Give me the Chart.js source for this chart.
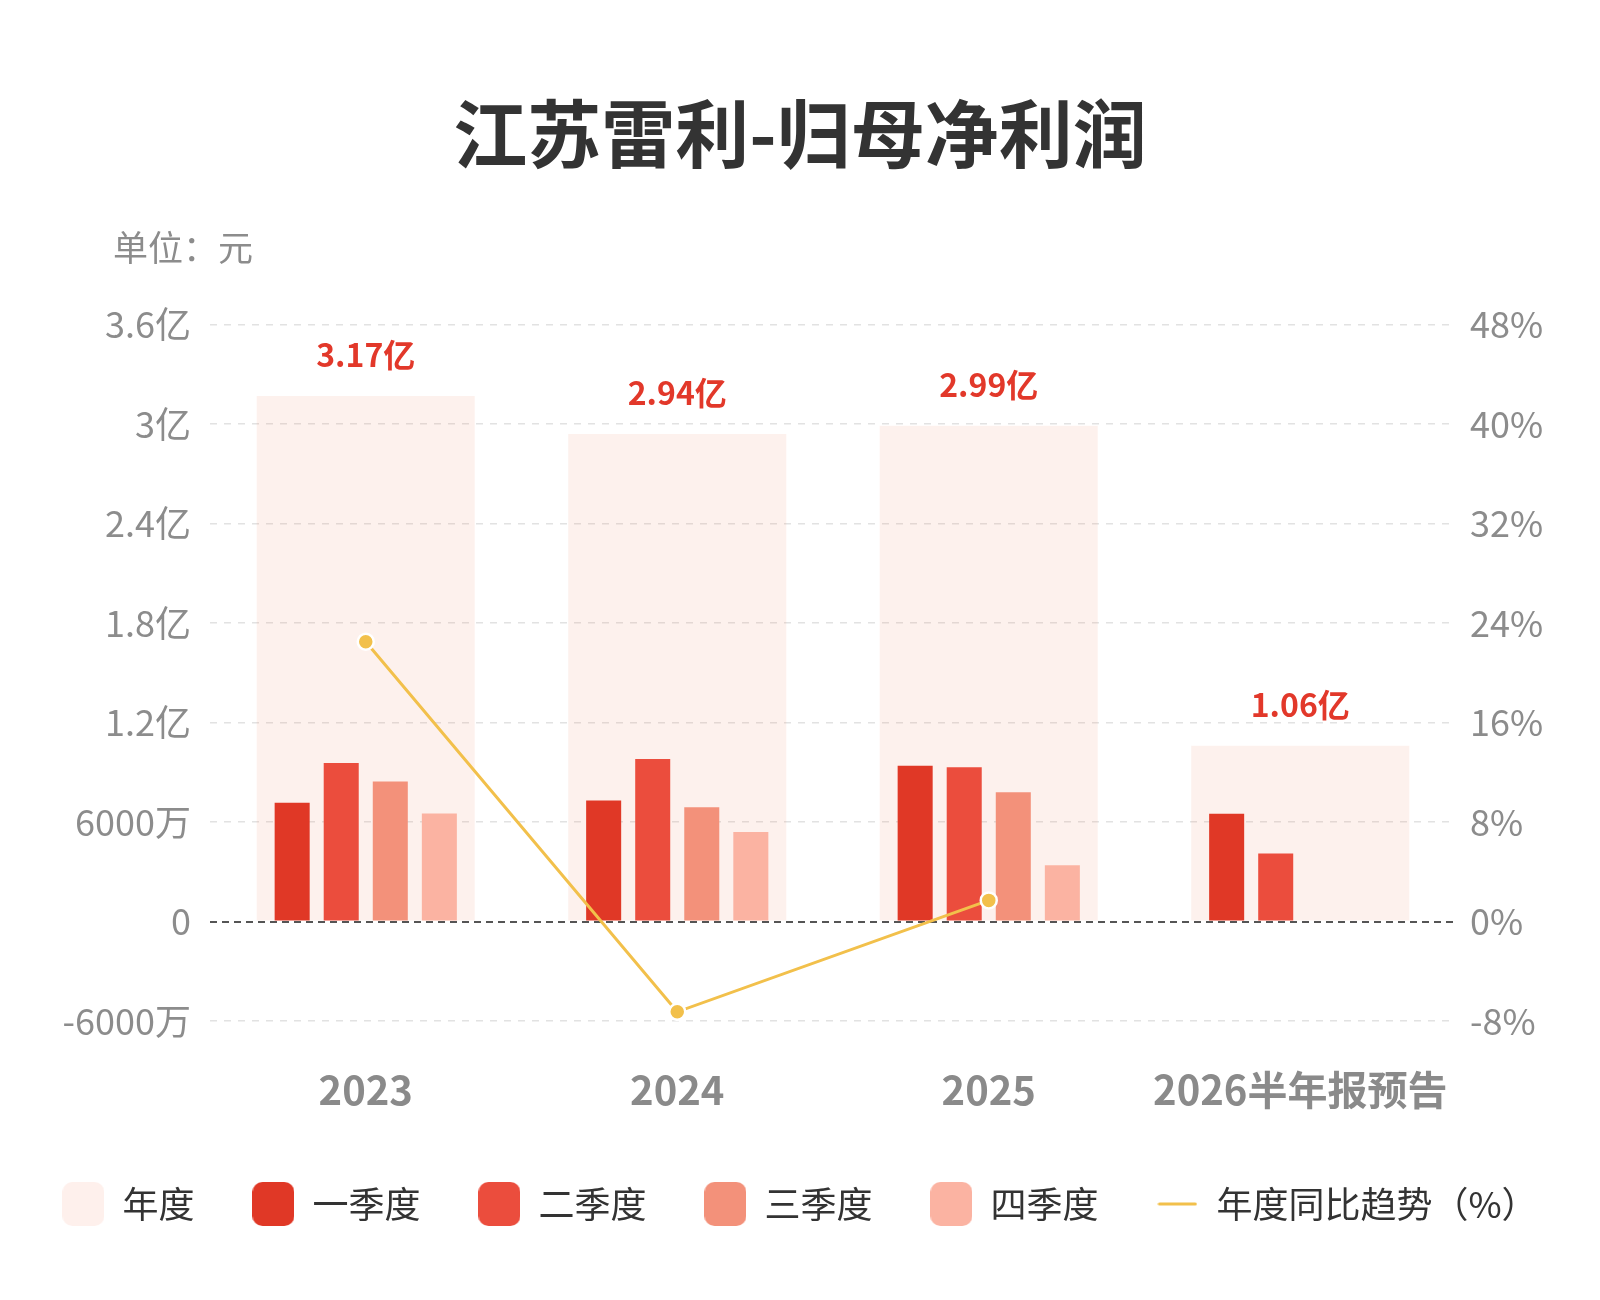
<!DOCTYPE html>
<html>
<head>
<meta charset="utf-8">
<script src="https://cdn.jsdelivr.net/npm/chart.js@4.4.0/dist/chart.umd.min.js"></script>
<style>
html,body{margin:0;padding:0;background:#fff;}
#wrap{width:1600px;height:1300px;position:relative;}
</style>
</head>
<body>
<div id="wrap"><canvas id="c"></canvas></div>
<script>
// ---- data (亿元 / %) ----
const categories = ['2023', '2024', '2025', '2026半年报预告'];
const annualProfit = [3.17, 2.94, 2.99, 1.06];
const q1Profit = [0.717, 0.73, 0.94, 0.65];
const q2Profit = [0.956, 0.98, 0.93, 0.41];
const q3Profit = [0.845, 0.69, 0.78, null];
const q4Profit = [0.652, 0.54, 0.34, null];
const yoyGrowth = [22.5, -7.26, 1.7, null];
const leftTickValues = [-0.6, 0, 0.6, 1.2, 1.8, 2.4, 3.0, 3.6];
const leftTickLabels = ['-6000万', '0', '6000万', '1.2亿', '1.8亿', '2.4亿', '3亿', '3.6亿'];
const rightTickValues = [-8, 0, 8, 16, 24, 32, 40, 48];
const rightTickLabels = ['-8%', '0%', '8%', '16%', '24%', '32%', '40%', '48%'];
const seriesNames = ['年度', '一季度', '二季度', '三季度', '四季度', '年度同比趋势（%）'];

const FONT = '"Noto Sans CJK SC", "Noto Sans", sans-serif';
Chart.defaults.font.family = FONT;

const COLORS = {
  annual: 'rgba(240,140,110,0.12)',
  annualSolid: '#fef0ec',
  q1: '#e03826',
  q2: '#eb4d3d',
  q3: '#f3917a',
  q4: '#fbb3a2',
  line: '#f2c04b'
};

function boxImage(color) {
  const c = document.createElement('canvas');
  c.width = 42; c.height = 44;
  const g = c.getContext('2d');
  g.fillStyle = color;
  g.beginPath();
  if (g.roundRect) g.roundRect(0, 0, 42, 44, 10); else g.rect(0, 0, 42, 44);
  g.fill();
  return c;
}
function lineImage(color) {
  const c = document.createElement('canvas');
  c.width = 40; c.height = 6;
  const g = c.getContext('2d');
  g.strokeStyle = color; g.lineWidth = 3; g.lineCap = 'round';
  g.beginPath(); g.moveTo(2, 3); g.lineTo(38, 3); g.stroke();
  return c;
}
const legendImages = [
  boxImage(COLORS.annualSolid), boxImage(COLORS.q1), boxImage(COLORS.q2),
  boxImage(COLORS.q3), boxImage(COLORS.q4), lineImage(COLORS.line)
];

const annotate = {
  id: 'annotate',
  afterDatasetsDraw(chart) {
    const ctx = chart.ctx;
    const meta = chart.getDatasetMeta(0);
    ctx.save();
    ctx.font = 'bold 32px ' + FONT;
    ctx.fillStyle = '#e2382a';
    ctx.textAlign = 'center';
    ctx.textBaseline = 'middle';
    meta.data.forEach((bar, i) => {
      ctx.fillText(annualProfit[i].toFixed(2) + '亿', bar.x, bar.y - 41);
    });
    ctx.font = '35px ' + FONT;
    ctx.fillStyle = '#8c8c8c';
    ctx.textAlign = 'left';
    ctx.fillText('单位：元', 113, 248);
    ctx.restore();
  }
};

const barCommon = { borderWidth: 0, categoryPercentage: 0.63, barPercentage: 0.714, yAxisID: 'y', order: 1 };

new Chart(document.getElementById('c'), {
  type: 'bar',
  data: {
    labels: categories,
    datasets: [
      { label: seriesNames[0], data: annualProfit, backgroundColor: COLORS.annual, borderWidth: 0,
        grouped: false, categoryPercentage: 0.7, barPercentage: 1.0, yAxisID: 'y', order: 2 },
      Object.assign({ label: seriesNames[1], data: q1Profit, backgroundColor: COLORS.q1 }, barCommon),
      Object.assign({ label: seriesNames[2], data: q2Profit, backgroundColor: COLORS.q2 }, barCommon),
      Object.assign({ label: seriesNames[3], data: q3Profit, backgroundColor: COLORS.q3 }, barCommon),
      Object.assign({ label: seriesNames[4], data: q4Profit, backgroundColor: COLORS.q4 }, barCommon),
      { type: 'line', label: seriesNames[5], data: yoyGrowth, yAxisID: 'y1', order: 0,
        borderColor: COLORS.line, borderWidth: 3, tension: 0, spanGaps: false,
        pointRadius: 8, pointBackgroundColor: COLORS.line, pointBorderColor: '#ffffff', pointBorderWidth: 2.5 }
    ]
  },
  options: {
    responsive: true,
    maintainAspectRatio: false,
    animation: false,
    layout: { padding: { top: 0, left: 0, right: 0, bottom: 68 } },
    plugins: {
      tooltip: { enabled: false },
      title: {
        display: true,
        text: '江苏雷利-归母净利润',
        color: '#333333',
        font: { size: 74, weight: 'bold', family: FONT },
        padding: { top: 89, bottom: 146.9 }
      },
      legend: {
        position: 'bottom',
        labels: {
          usePointStyle: true,
          pointStyleWidth: 42,
          boxHeight: 36,
          padding: 58,
          color: '#333333',
          font: { size: 36, family: FONT },
          sort: (a, b) => a.datasetIndex - b.datasetIndex,
          generateLabels(chart) {
            const items = Chart.defaults.plugins.legend.labels.generateLabels(chart);
            items.forEach(it => { it.pointStyle = legendImages[it.datasetIndex]; });
            return items;
          }
        }
      }
    },
    scales: {
      x: {
        type: 'category',
        offset: true,
        grid: { display: false, drawTicks: false },
        border: { display: false },
        ticks: { padding: 45, color: '#8a8a8a', font: { size: 40, weight: 'bold', family: FONT } },
        afterFit(s) { s.height = 107; }
      },
      y: {
        position: 'left',
        min: -0.6,
        max: 3.6,
        afterBuildTicks(s) { s.ticks = leftTickValues.map(v => ({ value: v })); },
        afterFit(s) { s.width = 210; },
        grid: {
          drawTicks: false,
          color: c => (c.tick && Math.abs(c.tick.value) < 1e-9) ? '#555555' : '#e2e2e2',
          lineWidth: c => (c.tick && Math.abs(c.tick.value) < 1e-9) ? 2 : 1.5
        },
        border: { display: false, dash: c => (c.tick && Math.abs(c.tick.value) < 1e-9) ? [7, 5] : [7, 7] },
        ticks: {
          padding: 19,
          color: '#8c8c8c',
          font: { size: 36, family: FONT },
          callback: (v, i) => leftTickLabels[i]
        }
      },
      y1: {
        position: 'right',
        min: -8,
        max: 48,
        afterBuildTicks(s) { s.ticks = rightTickValues.map(v => ({ value: v })); },
        afterFit(s) { s.width = 144; },
        grid: { display: false, drawTicks: false },
        border: { display: false },
        ticks: {
          padding: 14,
          color: '#8c8c8c',
          font: { size: 36, family: FONT },
          callback: (v, i) => rightTickLabels[i]
        }
      }
    }
  },
  plugins: [annotate]
});
</script>
</body>
</html>
